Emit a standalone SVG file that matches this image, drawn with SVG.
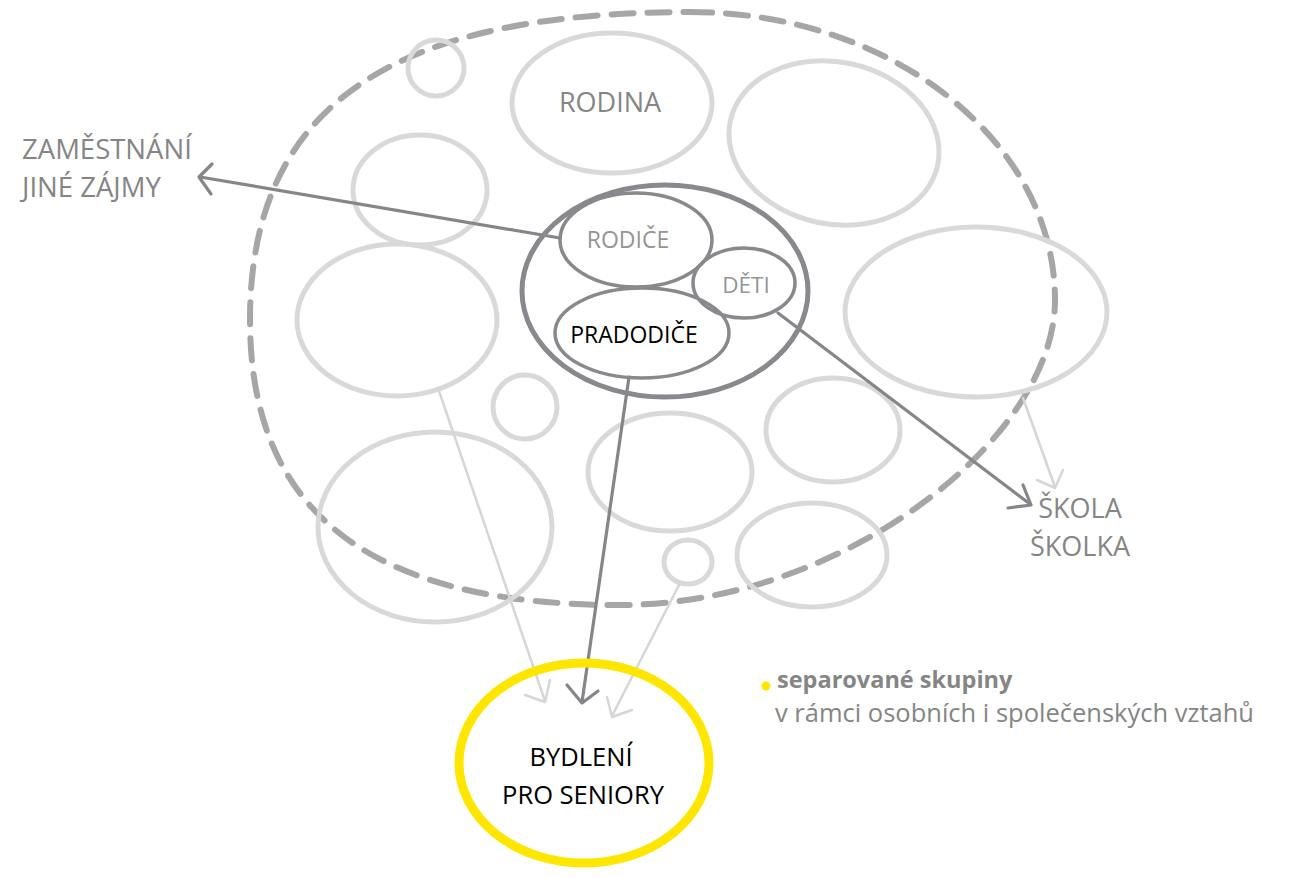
<svg xmlns="http://www.w3.org/2000/svg" width="1307" height="877" viewBox="0 0 1307 877">
<style>
.bub{fill:none;stroke:#d9d9d9;stroke-width:5}
.dark{fill:none;stroke:#88888d;stroke-width:3.5}
.lbl{font-family:"Open Sans","Liberation Sans",sans-serif;fill:#858585}
.inner{font-family:"Open Sans","Liberation Sans",sans-serif;fill:#959595}
.blk{font-family:"Open Sans","Liberation Sans",sans-serif;fill:#000000}
.conn{fill:none;stroke:#86868a;stroke-width:3.2;stroke-linecap:round;stroke-linejoin:round}
.lconn{fill:none;stroke:#d6d6d6;stroke-width:2.5;stroke-linecap:round;stroke-linejoin:round}
</style>
<rect width="1307" height="877" fill="#ffffff"/>
<g id="boundary">
<path d="M690,12 C891,12 1055,141 1055,300 C1055,440 840,605 620,605 C380,605 250,520 250,320 C250,100 400,12 690,12 Z" fill="none" stroke="#a6a6a6" stroke-width="6" stroke-dasharray="22 14" stroke-linecap="round"/>
</g>
<g id="bubbles">
<ellipse class="bub" cx="436" cy="68" rx="28" ry="28"/>
<g id="rodina"><ellipse class="bub" cx="612" cy="103" rx="100" ry="70"/>
<text class="lbl" x="610" y="112" font-size="27" text-anchor="middle">RODINA</text></g>
<ellipse class="bub" cx="420" cy="190" rx="67" ry="55"/>
<ellipse class="bub" cx="834" cy="143" rx="106" ry="81" transform="rotate(12 834 143)"/>
<ellipse class="bub" cx="976" cy="312" rx="131" ry="85"/>
<ellipse class="bub" cx="397" cy="320" rx="100" ry="76"/>
<ellipse class="bub" cx="525" cy="407" rx="32" ry="32"/>
<ellipse class="bub" cx="435" cy="527" rx="117" ry="95"/>
<ellipse class="bub" cx="670" cy="472" rx="82" ry="59"/>
<ellipse class="bub" cx="833" cy="430" rx="67" ry="52"/>
<ellipse class="bub" cx="812" cy="555" rx="75" ry="52"/>
<ellipse class="bub" cx="688" cy="562" rx="24" ry="22"/>
</g>
<g id="connectors">
<path class="conn" d="M560,238 L200,177"/>
<path class="conn" d="M212,164 L199,177 L211,194"/>
<path class="conn" d="M778,313 L1030,504"/>
<path class="conn" d="M1023,485 L1031,505 L1008,508"/>
<path class="conn" d="M629,377 L582,702"/>
<path class="conn" d="M567,685 L582,703 L598,691"/>
<path class="lconn" d="M438,388 L545,701"/>
<path class="lconn" d="M525,695 L545,702 L550,680"/>
<path class="lconn" d="M680,583 L612,716"/>
<path class="lconn" d="M607,697 L612,717 L632,710"/>
<path class="lconn" d="M1023,398 L1055,487"/>
<path class="lconn" d="M1037,480 L1055,488 L1063,470"/>
</g>
<g id="family">
<ellipse cx="665" cy="291" rx="143" ry="106" fill="none" stroke="#88888d" stroke-width="5"/>
<g id="rodice"><ellipse class="dark" cx="636" cy="240" rx="76" ry="47"/>
<text class="inner" x="628" y="248" font-size="23" text-anchor="middle">RODIČE</text></g>
<g id="deti"><ellipse class="dark" cx="744" cy="283" rx="51" ry="35"/>
<text class="inner" x="746" y="293" font-size="22.5" text-anchor="middle">DĚTI</text></g>
<g id="pradodice"><ellipse class="dark" cx="642" cy="333" rx="87" ry="45"/>
<text class="blk" x="634" y="343" font-size="23" text-anchor="middle">PRADODIČE</text></g>
</g>
<g id="zamestnani">
<text class="lbl" x="22" y="159" font-size="27.5">ZAMĚSTNÁNÍ</text>
<text class="lbl" x="22" y="197" font-size="27.5">JINÉ ZÁJMY</text>
</g>
<g id="skola">
<text class="lbl" x="1080" y="518" font-size="27" text-anchor="middle">ŠKOLA</text>
<text class="lbl" x="1080" y="556" font-size="27" text-anchor="middle">ŠKOLKA</text>
</g>
<g id="bydleni">
<ellipse cx="584" cy="763" rx="125" ry="100" fill="none" stroke="#ffe600" stroke-width="9"/>
<text class="blk" x="581" y="766" font-size="25.5" text-anchor="middle">BYDLENÍ</text>
<text class="blk" x="583" y="804" font-size="25.5" text-anchor="middle">PRO SENIORY</text>
</g>
<g id="legend">
<circle cx="766" cy="686" r="4.5" fill="#ffe600"/>
<text class="lbl" x="777" y="688" font-size="23.5" font-weight="bold">separované skupiny</text>
<text class="lbl" x="775" y="722" font-size="25.5">v rámci osobních i společenských vztahů</text>
</g>
</svg>
